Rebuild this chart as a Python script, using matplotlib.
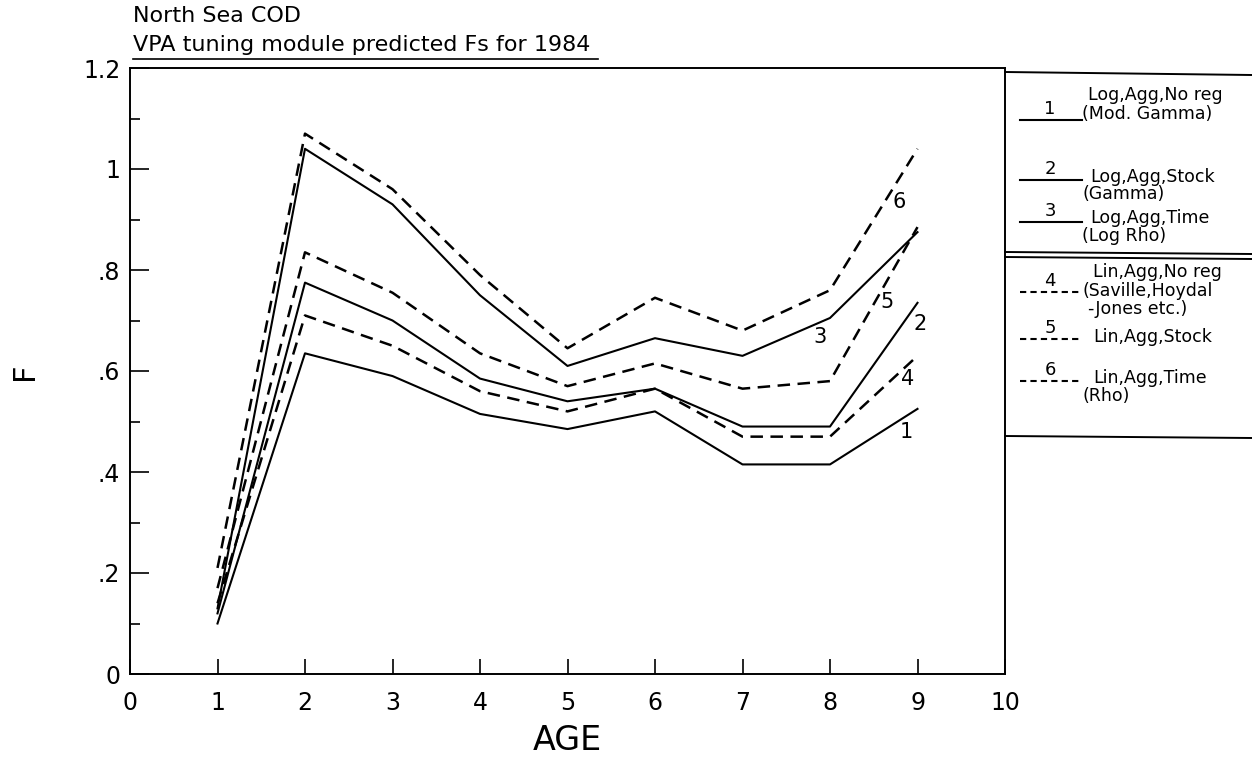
import matplotlib
matplotlib.use('Agg')
import matplotlib.pyplot as plt
from matplotlib.lines import Line2D

# ---------------- data ----------------
ages = [1, 2, 3, 4, 5, 6, 7, 8, 9]
f_log_agg_noreg = [0.10, 0.635, 0.59, 0.515, 0.485, 0.52, 0.415, 0.415, 0.525]   # 1
f_log_agg_stock = [0.12, 0.775, 0.70, 0.585, 0.54, 0.565, 0.49, 0.49, 0.735]      # 2
f_log_agg_time = [0.13, 1.04, 0.93, 0.75, 0.61, 0.665, 0.63, 0.705, 0.875]        # 3
f_lin_agg_noreg = [0.14, 0.71, 0.65, 0.56, 0.52, 0.565, 0.47, 0.47, 0.63]         # 4
f_lin_agg_stock = [0.17, 0.835, 0.755, 0.635, 0.57, 0.615, 0.565, 0.58, 0.885]    # 5
f_lin_agg_time = [0.21, 1.07, 0.96, 0.79, 0.645, 0.745, 0.68, 0.76, 1.04]         # 6

series_ids = ['1', '2', '3', '4', '5', '6']
series_values = [f_log_agg_noreg, f_log_agg_stock, f_log_agg_time,
                 f_lin_agg_noreg, f_lin_agg_stock, f_lin_agg_time]
series_dashed = [False, False, False, True, True, True]
legend_lines = [
    ['Log,Agg,No reg', '(Mod. Gamma)'],
    ['Log,Agg,Stock', '(Gamma)'],
    ['Log,Agg,Time', '(Log Rho)'],
    ['Lin,Agg,No reg', '(Saville,Hoydal', '-Jones etc.)'],
    ['Lin,Agg,Stock'],
    ['Lin,Agg,Time', '(Rho)'],
]
x_ticks = [0, 1, 2, 3, 4, 5, 6, 7, 8, 9, 10]
x_tick_labels = ['0', '1', '2', '3', '4', '5', '6', '7', '8', '9', '10']
y_ticks = [0, 0.2, 0.4, 0.6, 0.8, 1.0, 1.2]
y_tick_labels = ['0', '.2', '.4', '.6', '.8', '1', '1.2']
title1 = 'North Sea COD'
title2 = 'VPA tuning module predicted Fs for 1984'

# -------------- figure ---------------
W, H = 1252, 758
fig = plt.figure(figsize=(W / 100, H / 100), dpi=100)
plt.rcParams['font.family'] = ['DejaVu Sans']


def fx(px):
    return px / W


def fy(py):
    return 1 - py / H


ax = fig.add_axes([fx(130), fy(674), fx(1005) - fx(130), fy(68) - fy(674)])
ax.set_xlim(0, 10)
ax.set_ylim(0, 1.2)

dash = (0, (5, 3))
for vals, dashed in zip(series_values, series_dashed):
    ax.plot(ages, vals, color='black',
            linestyle=dash if dashed else '-',
            linewidth=1.8 if dashed else 1.5)

# labels near line ends (anchored to series points, offset in points)
label_anchor = [8, 8, 7, 8, 8, 8]
label_offsets = [(-8, -17), (2, -15), (-7, -14), (-7, -17), (-22, -54), (-13, -38)]
for sid, vals, idx, off in zip(series_ids, series_values, label_anchor, label_offsets):
    ax.annotate(sid, xy=(ages[idx], vals[idx]), xytext=off,
                textcoords='offset points', ha='center', va='center',
                fontsize=15, color='black')

ax.set_xticks(x_ticks)
ax.set_xticklabels(x_tick_labels)
ax.set_yticks(y_ticks)
ax.set_yticklabels(y_tick_labels)
ax.set_yticks([0.1, 0.3, 0.5, 0.7, 0.9, 1.1], minor=True)
ax.tick_params(axis='x', direction='in', length=11, width=1.2, labelsize=17, pad=12)
ax.tick_params(axis='y', which='major', direction='in', length=14, width=1.2, labelsize=17, pad=7)
ax.tick_params(axis='y', which='minor', direction='in', length=7, width=1.2)
ax.tick_params(top=False, right=False)
for s in ax.spines.values():
    s.set_linewidth(1.4)

ax.set_xlabel('AGE', fontsize=24, labelpad=7)
ax.set_ylabel('F', fontsize=22, labelpad=32)

# titles
fig.text(fx(133), fy(16), title1, fontsize=16, ha='left', va='center')
fig.text(fx(133), fy(45), title2, fontsize=16, ha='left', va='center')
fig.add_artist(Line2D([fx(133), fx(598)], [fy(59), fy(59)], color='black', lw=1.2))

# -------------- legend box ---------------
lw_box = 1.4
fig.add_artist(Line2D([fx(1005), fx(1252)], [fy(72), fy(75)], color='black', lw=lw_box))
fig.add_artist(Line2D([fx(1005), fx(1252)], [fy(252), fy(254)], color='black', lw=lw_box))
fig.add_artist(Line2D([fx(1005), fx(1252)], [fy(257), fy(259)], color='black', lw=lw_box))
fig.add_artist(Line2D([fx(1005), fx(1252)], [fy(436), fy(438)], color='black', lw=lw_box))

entry_line_y = [120, 180, 222, 292, 339, 381]
entry_text_y = [[95, 114], [177, 194], [218, 236], [272, 291, 309], [337], [378, 396]]
entry_text_x = [[1088, 1082], [1090, 1082], [1090, 1082], [1093, 1082, 1088], [1093], [1093, 1082]]
for sid, dashed, ly, lines, tys, txs in zip(series_ids, series_dashed, entry_line_y,
                                           legend_lines, entry_text_y, entry_text_x):
    fig.add_artist(Line2D([fx(1020), fx(1082)], [fy(ly), fy(ly)], color='black',
                          lw=1.5, linestyle=(0, (3, 2)) if dashed else '-'))
    fig.text(fx(1050), fy(ly - 11), sid, fontsize=13, ha='center', va='center')
    for txt, ty, tx in zip(lines, tys, txs):
        fig.text(fx(tx), fy(ty), txt, fontsize=12.5, ha='left', va='center')

fig.savefig('out.png', dpi=100)
